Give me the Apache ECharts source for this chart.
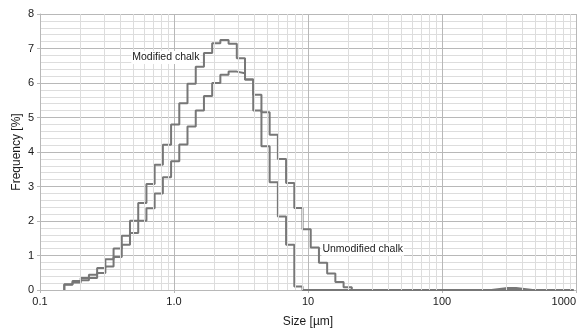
<!DOCTYPE html>
<html>
<head>
<meta charset="utf-8">
<script src="https://cdn.jsdelivr.net/npm/echarts@6/dist/echarts.min.js"></script>
<style>
  html, body { margin: 0; padding: 0; background: #fff; }
  #chart { width: 582px; height: 329px; }
</style>
</head>
<body>
<div id="chart"></div>
<script>
// bin edges of the size classes (µm)
const binEdges = [
  0.1518, 0.1748, 0.2013, 0.2318, 0.2669, 0.3074, 0.3540, 0.4076, 0.4694, 0.5408,
  0.6227, 0.7171, 0.8259, 0.9511, 1.095, 1.261, 1.453, 1.673, 1.927, 2.218,
  2.555, 2.942, 3.388, 3.902, 4.493, 5.174, 5.958, 6.862, 7.902, 9.099,
  10.48, 12.07, 13.90, 16.00, 18.43, 21.22, 24.44, 28.14, 32.41, 37.33,
  42.99, 49.50, 57.01, 65.65, 75.60, 87.06, 100.3, 115.5, 133.0, 153.1,
  176.3, 203.1, 233.8, 269.3, 310.1, 357.1, 411.3, 473.6, 545.4, 628.1,
  723.3, 832.9, 959.2
]

// frequency [%] per bin
const modifiedChalk = [
  0.17, 0.26, 0.35, 0.44, 0.64, 0.89, 1.20, 1.57, 2.01, 2.52,
  3.07, 3.63, 4.21, 4.80, 5.41, 5.98, 6.47, 6.87, 7.15, 7.25,
  7.14, 6.72, 6.10, 5.20, 4.17, 3.12, 2.13, 1.31, 0.10, 0,
  0, 0, 0, 0, 0, 0, 0, 0, 0, 0,
  0, 0, 0, 0, 0, 0, 0, 0, 0, 0,
  0, 0, 0, 0, 0, 0, 0, 0, 0, 0,
  0, 0
]

const unmodifiedChalk = [
  0.15, 0.22, 0.28, 0.35, 0.49, 0.68, 0.96, 1.31, 1.65, 2.01,
  2.37, 2.80, 3.27, 3.73, 4.22, 4.74, 5.20, 5.62, 6.00, 6.24,
  6.33, 6.28, 6.10, 5.66, 5.15, 4.50, 3.80, 3.10, 2.38, 1.76,
  1.23, 0.79, 0.48, 0.23, 0.08, 0, 0, 0, 0, 0,
  0, 0, 0, 0, 0, 0, 0, 0, 0, 0,
  0, 0, 0.03, 0.06, 0.06, 0.03, 0, 0, 0, 0,
  0, 0
]

const seriesNames = ['Modified chalk', 'Unmodified chalk']

const xTickLabels = ['0.1', '1.0', '10', '100', '1000']
const minorDecades = [0.1, 1, 10, 100]
const minorSteps = [2, 3, 4, 5, 6, 7, 8, 9]

const textColor = '#1a1a1a'
const majorGrid = '#b8b8b8'
const minorGrid = '#dddddd'
const curveColor = '#777777'

function stepData(values) {
  const points = [[binEdges[0], 0]]
  values.forEach((v, i) => points.push([binEdges[i], v]))
  points.push([binEdges[values.length], 0])
  return points
}

const minorX = []
minorDecades.forEach((d) => minorSteps.forEach((m) => minorX.push(d * m)))

function curve(name, values, labelCoord) {
  return {
    name,
    type: 'line',
    step: 'end',
    data: stepData(values),
    showSymbol: false,
    symbol: 'none',
    z: 3,
    lineStyle: { color: curveColor, width: 2 },
    markPoint: {
      symbol: 'circle',
      symbolSize: 0,
      silent: true,
      label: {
        show: true,
        position: 'right',
        distance: 0,
        formatter: name,
        color: textColor,
        fontSize: 10.5,
        backgroundColor: '#fff',
        padding: [1, 1],
      },
      data: [{ coord: labelCoord }],
    },
  }
}

const chart = echarts.init(document.getElementById('chart'), null, { renderer: 'canvas' })

chart.setOption({
  animation: false,
  backgroundColor: '#fff',
  textStyle: { fontFamily: 'Liberation Sans, Arial, sans-serif' },
  grid: { left: 40, right: 6, top: 14, bottom: 39, containLabel: false, outerBoundsMode: 'none' },
  xAxis: {
    type: 'log',
    logBase: 10,
    min: 0.1,
    max: 1000,
    name: 'Size [µm]',
    nameLocation: 'middle',
    nameGap: 26,
    nameMoveOverlap: false,
    nameTextStyle: { fontSize: 12, color: textColor },
    axisLine: { lineStyle: { color: majorGrid } },
    axisTick: { show: true, length: 3, lineStyle: { color: majorGrid } },
    axisLabel: {
      fontSize: 11,
      color: textColor,
      margin: 6,
      alignMaxLabel: 'right',
      formatter: (v) => xTickLabels[Math.round(Math.log10(v)) + 1],
    },
    splitLine: { show: true, lineStyle: { color: majorGrid } },
  },
  yAxis: {
    type: 'value',
    min: 0,
    max: 8,
    interval: 1,
    name: 'Frequency [%]',
    nameLocation: 'middle',
    nameGap: 17,
    nameMoveOverlap: false,
    nameTextStyle: { fontSize: 12, color: textColor },
    axisLine: { show: true, lineStyle: { color: majorGrid } },
    axisTick: { show: true, length: 3, lineStyle: { color: majorGrid } },
    axisLabel: { fontSize: 11, color: textColor, margin: 6 },
    splitLine: { lineStyle: { color: majorGrid } },
    minorTick: { show: false, splitNumber: 5 },
    minorSplitLine: { show: true, lineStyle: { color: minorGrid } },
  },
  series: [
    {
      type: 'line',
      data: [],
      silent: true,
      z: 1,
      markLine: {
        silent: true,
        symbol: 'none',
        label: { show: false },
        lineStyle: { color: minorGrid, width: 1, type: 'solid' },
        data: minorX.map((v) => ({ xAxis: v })),
      },
    },
    curve(seriesNames[0], modifiedChalk, [0.48, 6.74]),
    curve(seriesNames[1], unmodifiedChalk, [12.6, 1.18]),
  ],
})
</script>
</body>
</html>
